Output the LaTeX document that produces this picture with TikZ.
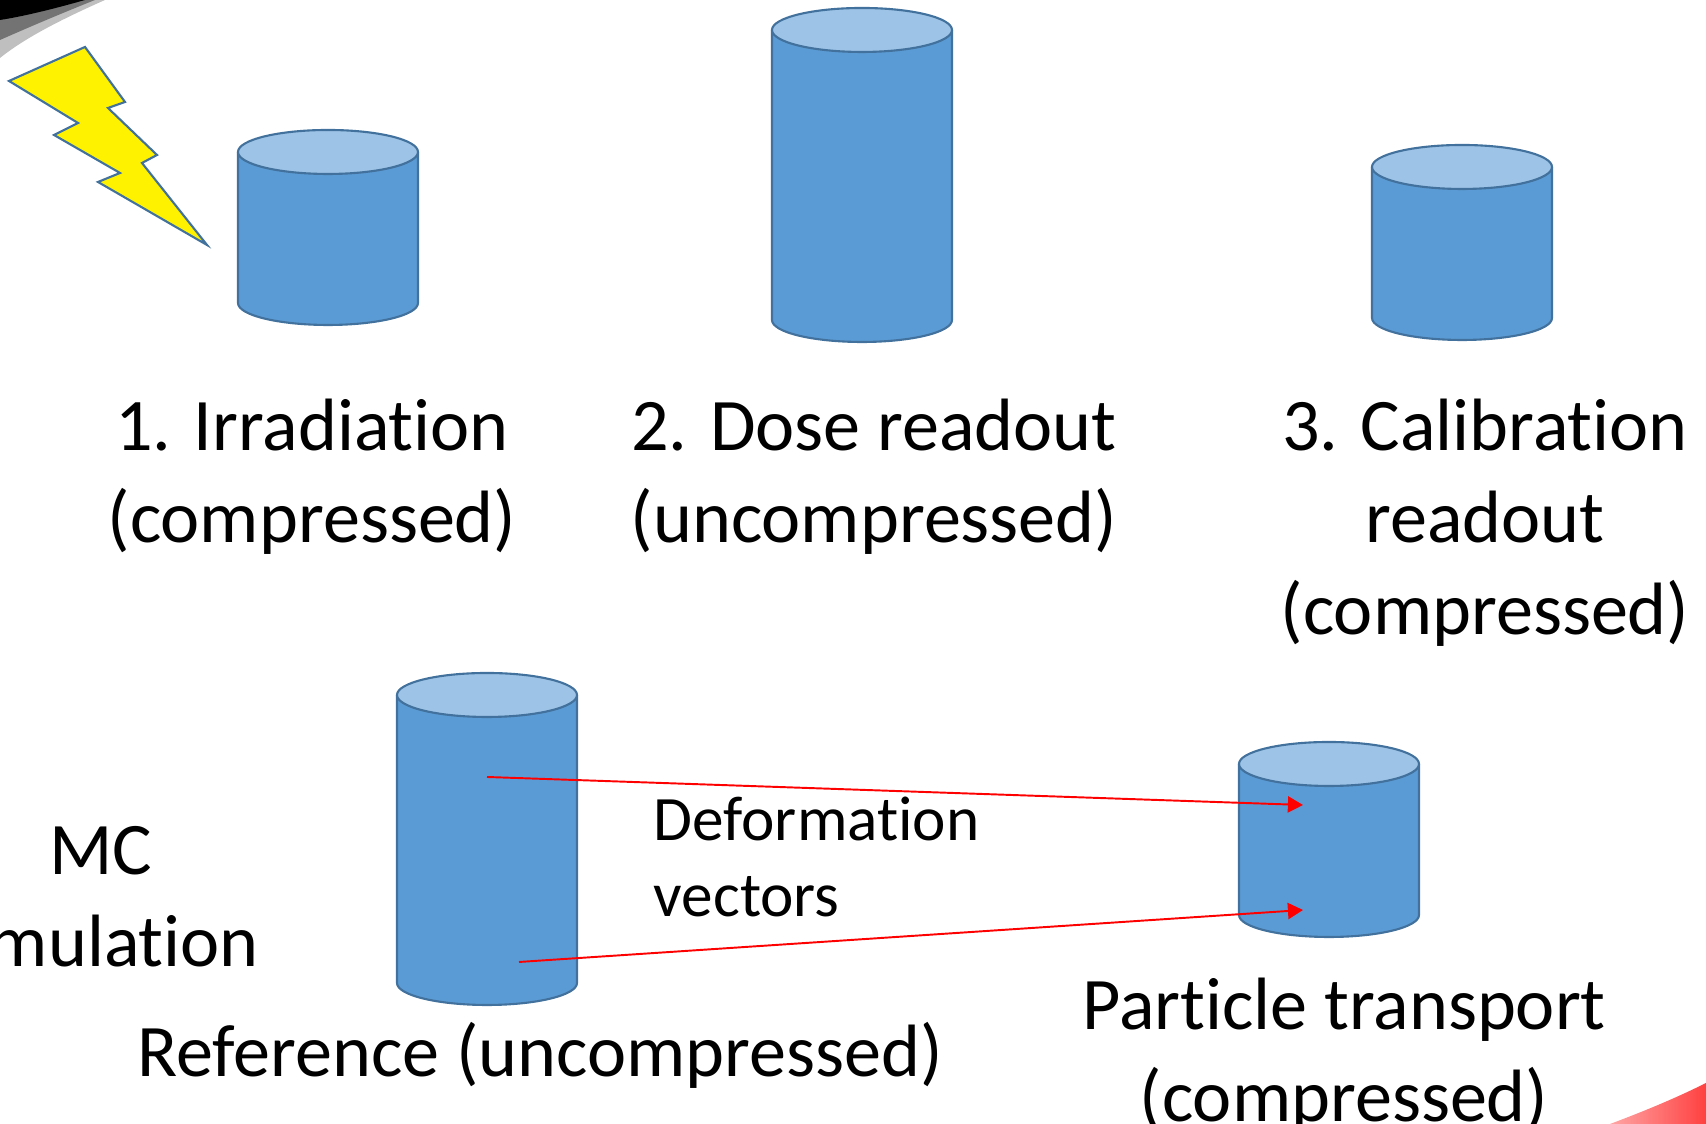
\documentclass[tikz,border=0pt]{standalone}
\usepackage{fontspec}
\setmainfont{Carlito}[Ligatures={NoCommon,NoContextual,NoRare}, Contextuals=NoAlternate]
\usepackage{tikz}
\usetikzlibrary{arrows.meta}
\definecolor{drumblue}{HTML}{5B9BD5}
\definecolor{drumlid}{HTML}{9DC3E6}
\definecolor{drumline}{HTML}{41719C}
\tikzset{
	drum side/.style={fill=drumblue, draw=drumline, line width=0.6pt},
	drum lid/.style={fill=drumlid, draw=drumline, line width=0.6pt},
	label text/.style={inner sep=0, align=center, font=\fontsize{21.1}{26.2}\selectfont},
	small text/.style={inner sep=0, align=left, font=\fontsize{18}{21.6}\selectfont},
	vector/.style={draw=red, line width=0.55pt, -{Triangle[length=4.3pt,width=4.6pt]}}
}
% cylinder: centre x, lid y, bottom y
\def\drum(#1,#2,#3){
	\draw[drum side] (#1-0.9,#2) -- (#1-0.9,#3) arc (180:360:0.9 and 0.22) -- (#1+0.9,#2);
	\draw[drum lid] (#1,#2) ellipse (0.9 and 0.22);
}

\begin{document}
\begin{tikzpicture}
			%%%%% START %%%%%
			\useasboundingbox (0, 0) rectangle (17.06, 11.24);
			\clip (0, 0) rectangle (17.06, 11.24);
			
			% dark swoosh, top left
			\fill[black!25] (0, 11.24) -- (1.05, 11.24) .. controls (0.6, 11.04) and (0.25, 10.86) .. (0, 10.66) -- cycle;
			\fill[black!55] (0, 11.24) -- (0.95, 11.24) .. controls (0.55, 11.08) and (0.25, 10.95) .. (0, 10.84) -- cycle;
			\fill[black] (0, 11.24) -- (0.85, 11.24) .. controls (0.5, 11.14) and (0.2, 11.07) .. (0, 11.04) -- cycle;
			
			% red swoosh, bottom right
			\shade[left color=red!35, right color=red!75] (16.1, 0) .. controls (16.5, 0.15) and (16.8, 0.28) .. (17.06, 0.41) -- (17.06, 0) -- cycle;
			
			% lightning
			\draw[fill=yellow, draw=drumline, line width=0.6pt] (0.09, 10.43) -- (0.85, 10.77) -- (1.25, 10.22) -- (1.08, 10.16) -- (1.57, 9.69) -- (1.42, 9.61) -- (2.07, 8.79) -- (0.98, 9.42) -- (1.20, 9.51) -- (0.54, 9.89) -- (0.78, 10.01) -- cycle;
			
			% the five cylinders
			\drum(3.28, 9.72, 8.21)
			\drum(8.62, 10.94, 8.04)
			\drum(14.62, 9.57, 8.06)
			\drum(4.87, 4.29, 1.41)
			\drum(13.29, 3.60, 2.09)
			
			\node[label text] (irr) at (3.12, 6.47) {1. Irradiation\\(compressed)};
			\node[label text] (dose) at (8.74, 6.47) {2. Dose readout\\(uncompressed)};
			\node[label text] (calib) at (14.85, 6.01) {3. Calibration\\readout\\(compressed)};
			\node[label text] (mc) at (1.01, 2.27) {MC\\simulation};
			\node[label text, anchor=base] (ref) at (5.40, 0.47) {Reference (uncompressed)};
			\node[label text] (trans) at (13.44, 0.685) {Particle transport\\(compressed)};
			\node[small text, anchor=west] (deform) at (6.53, 2.67) {Deformation\\vectors};
			
			% deformation vectors
			\coordinate (ref-up) at (4.87, 3.47);
			\coordinate (ref-low) at (5.19, 1.62);
			\coordinate (pt-up) at (13.03, 3.19);
			\coordinate (pt-low) at (13.03, 2.14);
			\draw[vector] (ref-up) -- (pt-up);
			\draw[vector] (ref-low) -- (pt-low);
			
			%%%%% END %%%%%
\end{tikzpicture}
\end{document}
